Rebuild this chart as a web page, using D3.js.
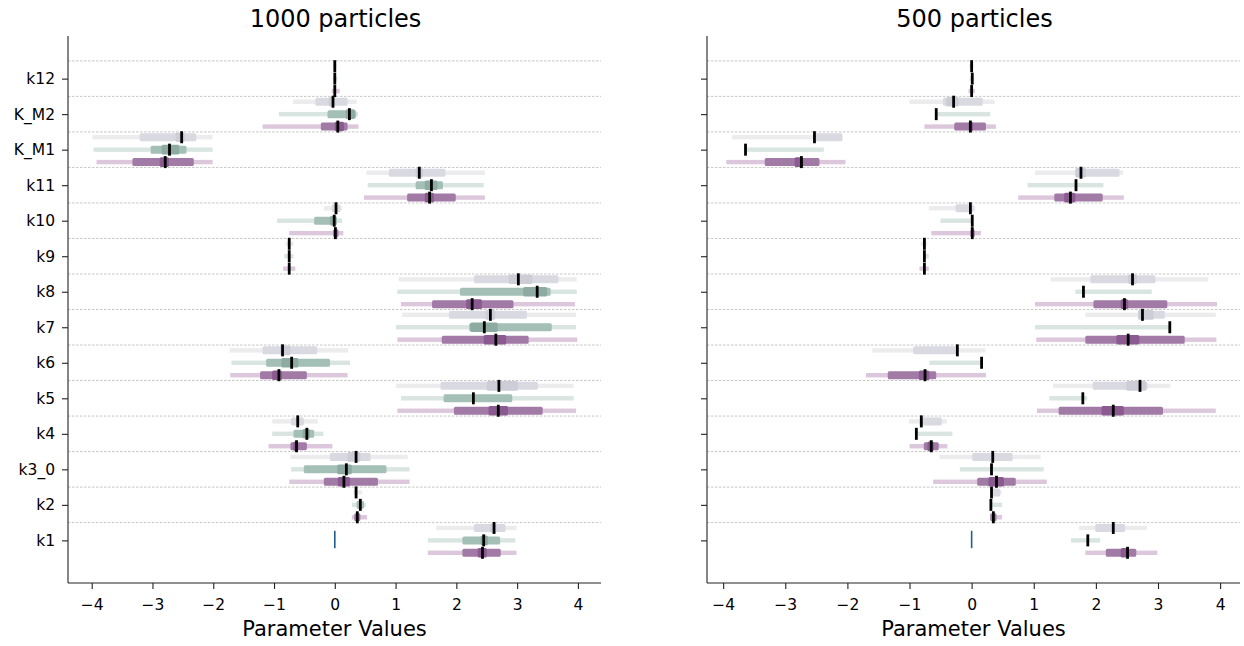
<!DOCTYPE html>
<html>
<head>
<meta charset="utf-8">
<script src="https://cdn.jsdelivr.net/npm/d3@7"></script>
<style>
  body { margin: 0; background: #fff; }
  text { font-family: "DejaVu Sans", sans-serif; }
</style>
</head>
<body>
<svg width="1244" height="646"></svg>
<script>
const params = ["k12", "K_M2", "K_M1", "k11", "k10", "k9", "k8", "k7", "k6", "k5", "k4", "k3_0", "k2", "k1"];
const xTicks = [-4, -3, -2, -1, 0, 1, 2, 3, 4];
const panelTitles = ["1000 particles", "500 particles"];
const trueK1 = 0;

// each row: [outerLo, outerHi, midLo, midHi, innerLo, innerHi, marker]
const gray1000 = [
  [-0.03, 0.03, null, null, null, null, 0.0],
  [-0.69, 0.36, -0.32, 0.21, -0.10, 0.00, -0.03],
  [-3.99, -2.01, -3.21, -2.28, -2.62, -2.47, -2.52],
  [0.52, 2.47, 0.89, 1.82, 1.33, 1.45, 1.39],
  [-0.18, 0.12, -0.05, 0.09, null, null, 0.02],
  [-0.81, -0.68, null, null, null, null, -0.75],
  [1.05, 3.98, 2.29, 3.68, 2.86, 3.25, 3.02],
  [1.11, 3.97, 1.88, 3.16, 2.48, 2.64, 2.56],
  [-1.73, 0.22, -1.19, -0.29, -0.90, -0.73, -0.86],
  [1.01, 3.93, 1.74, 3.34, 2.50, 3.01, 2.70],
  [-1.03, -0.28, -0.72, -0.51, null, null, -0.61],
  [-0.73, 1.20, -0.08, 0.59, 0.21, 0.42, 0.35],
  [0.31, 0.45, null, null, null, null, 0.35],
  [1.67, 2.99, 2.29, 2.81, 2.56, 2.66, 2.62]
];
const green1000 = [
  [-0.03, 0.04, null, null, null, null, 0.0],
  [-0.92, 0.38, -0.12, 0.35, 0.18, 0.33, 0.24],
  [-3.97, -2.01, -3.03, -2.44, -2.85, -2.56, -2.72],
  [0.54, 2.45, 1.33, 1.78, 1.48, 1.69, 1.59],
  [-0.95, 0.12, -0.34, 0.03, -0.08, 0.03, -0.01],
  [-0.83, -0.68, null, null, null, null, -0.75],
  [1.03, 3.98, 2.06, 3.55, 3.10, 3.49, 3.33],
  [1.01, 3.97, 2.21, 3.57, 2.23, 2.68, 2.46],
  [-1.70, 0.25, -1.13, -0.08, -0.88, -0.60, -0.71],
  [1.09, 3.93, 1.79, 2.92, null, null, 2.28],
  [-1.03, -0.19, -0.68, -0.34, -0.53, -0.41, -0.46],
  [-0.72, 1.23, -0.51, 0.85, 0.04, 0.28, 0.19],
  [0.28, 0.51, 0.36, 0.48, null, null, 0.42],
  [1.53, 2.97, 2.10, 2.72, 2.40, 2.52, 2.45]
];
const purple1000 = [
  [-0.05, 0.08, null, null, null, null, 0.0],
  [-1.19, 0.39, -0.23, 0.21, 0.00, 0.15, 0.05],
  [-3.92, -2.01, -3.33, -2.32, -2.88, -2.73, -2.79],
  [0.48, 2.47, 1.19, 1.99, 1.48, 1.63, 1.56],
  [-0.75, 0.14, -0.03, 0.06, null, null, 0.01],
  [-0.85, -0.65, null, null, null, null, -0.75],
  [1.09, 3.95, 1.60, 2.94, 2.16, 2.42, 2.26],
  [1.03, 3.99, 1.76, 3.19, 2.45, 2.82, 2.65],
  [-1.72, 0.21, -1.23, -0.46, -1.03, -0.87, -0.92],
  [1.03, 3.97, 1.96, 3.42, 2.53, 2.85, 2.69],
  [-1.09, -0.04, -0.73, -0.46, -0.68, -0.60, -0.63],
  [-0.75, 1.23, -0.18, 0.71, 0.05, 0.25, 0.15],
  [0.28, 0.53, 0.32, 0.42, null, null, 0.37],
  [1.53, 2.99, 2.10, 2.73, 2.35, 2.50, 2.43]
];
const gray500 = [
  [-0.04, 0.03, null, null, null, null, 0.0],
  [-1.00, 0.37, -0.46, 0.18, -0.41, -0.21, -0.29],
  [-3.86, -2.08, -2.53, -2.08, null, null, -2.53],
  [1.02, 2.44, 1.67, 2.38, 1.67, 1.84, 1.76],
  [-0.69, 0.06, -0.26, 0.03, null, null, -0.02],
  [-0.82, -0.72, null, null, null, null, -0.76],
  [1.27, 3.81, 1.91, 2.96, 2.52, 2.66, 2.59],
  [1.83, 3.93, 2.68, 3.11, 2.68, 2.93, 2.75],
  [-1.60, 0.22, -0.94, -0.23, null, null, -0.23],
  [1.31, 3.20, 1.95, 2.83, 2.49, 2.81, 2.71],
  [-1.01, -0.40, -0.84, -0.48, null, null, -0.81],
  [-0.52, 1.11, 0.01, 0.66, null, null, 0.34],
  [0.32, 0.48, 0.32, 0.46, null, null, 0.32],
  [1.73, 2.82, 1.99, 2.47, null, null, 2.28]
];
const green500 = [
  [-0.03, 0.04, null, null, null, null, 0.01],
  [-0.57, 0.30, null, null, null, null, -0.57],
  [-3.64, -2.38, null, null, null, null, -3.64],
  [0.90, 2.12, null, null, null, null, 1.68],
  [-0.50, 0.00, null, null, null, null, 0.01],
  [-0.78, -0.69, null, null, null, null, -0.76],
  [1.67, 2.90, null, null, null, null, 1.80],
  [1.02, 3.19, null, null, null, null, 3.19],
  [-0.68, 0.16, null, null, null, null, 0.16],
  [1.25, 1.86, null, null, null, null, 1.79],
  [-0.89, -0.31, null, null, null, null, -0.89],
  [-0.19, 1.16, null, null, null, null, 0.32],
  [0.31, 0.49, null, null, null, null, 0.31],
  [1.60, 2.07, null, null, null, null, 1.87]
];
const purple500 = [
  [-0.05, 0.05, null, null, null, null, 0.0],
  [-0.76, 0.39, -0.28, 0.23, -0.05, 0.02, -0.02],
  [-3.95, -2.03, -3.33, -2.45, -2.85, -2.71, -2.74],
  [0.75, 2.45, 1.33, 2.11, 1.49, 1.67, 1.59],
  [-0.65, 0.15, -0.02, 0.05, null, null, 0.01],
  [-0.84, -0.69, null, null, null, null, -0.76],
  [1.02, 3.95, 1.96, 3.15, 2.40, 2.52, 2.46],
  [1.04, 3.94, 1.83, 3.43, 2.33, 2.70, 2.52],
  [-1.70, 0.23, -1.35, -0.57, -0.85, -0.68, -0.75],
  [1.05, 3.93, 1.40, 3.08, 2.09, 2.45, 2.28],
  [-1.00, -0.39, -0.77, -0.53, -0.71, -0.61, -0.65],
  [-0.62, 1.21, 0.09, 0.71, 0.27, 0.52, 0.40],
  [0.30, 0.49, 0.30, 0.40, null, null, 0.35],
  [1.83, 2.99, 2.16, 2.65, 2.40, 2.52, 2.51]
];

const panels = [
  { title: panelTitles[0], series: [gray1000, green1000, purple1000], left: 68, right: 601, domain: [-4.39, 4.38], labels: true },
  { title: panelTitles[1], series: [gray500, green500, purple500], left: 707, right: 1240, domain: [-4.26, 4.32], labels: false }
];

// colours per series: [outer, mid, inner]
const palette = [
  ["#ececef", "#d9d9e1", "#cdcdd8"],
  ["#d9e5e0", "#a4bfb6", "#8daba2"],
  ["#dcc7dc", "#a17ba6", "#8a5a90"]
];
const seriesOffset = [-0.35, 0, 0.35];

const svg = d3.select("svg");
const plotTop = 36, plotBottom = 583;

const y = d3.scaleLinear()
  .domain([-1.2, params.length + 0.2])
  .range([plotTop, plotBottom]);

panels.forEach(p => {
  const x = d3.scaleLinear().domain(p.domain).range([p.left, p.right]);
  const g = svg.append("g");

  // dashed separators between parameters
  g.selectAll("line.sep")
    .data(d3.range(params.length))
    .join("line")
    .attr("class", "sep")
    .attr("x1", p.left).attr("x2", p.right)
    .attr("y1", i => y(i - 0.5)).attr("y2", i => y(i - 0.5))
    .attr("stroke", "#b9b9b9")
    .attr("stroke-width", 0.8)
    .attr("stroke-dasharray", "2.5,1.5");

  p.series.forEach((rows, s) => {
    const sg = g.append("g");
    const cy = i => y(i + seriesOffset[s]);
    const items = rows.map((r, i) => ({ r, i }));

    // thin outer interval
    sg.selectAll("rect.outer")
      .data(items)
      .join("rect")
      .attr("class", "outer")
      .attr("x", d => x(d.r[0]))
      .attr("width", d => Math.max(1, x(d.r[1]) - x(d.r[0])))
      .attr("y", d => cy(d.i) - 2.2)
      .attr("height", 4.4)
      .attr("fill", palette[s][0]);

    // mid interval
    sg.selectAll("rect.mid")
      .data(items.filter(d => d.r[2] !== null))
      .join("rect")
      .attr("class", "mid")
      .attr("x", d => x(d.r[2]))
      .attr("width", d => Math.max(1, x(d.r[3]) - x(d.r[2])))
      .attr("y", d => cy(d.i) - 4)
      .attr("height", 8)
      .attr("rx", 1.5)
      .attr("fill", palette[s][1]);

    // inner interval
    sg.selectAll("rect.inner")
      .data(items.filter(d => d.r[4] !== null))
      .join("rect")
      .attr("class", "inner")
      .attr("x", d => x(d.r[4]))
      .attr("width", d => Math.max(1, x(d.r[5]) - x(d.r[4])))
      .attr("y", d => cy(d.i) - 4.8)
      .attr("height", 9.6)
      .attr("rx", 1.5)
      .attr("fill", palette[s][2]);

    // marker
    sg.selectAll("line.mark")
      .data(items)
      .join("line")
      .attr("class", "mark")
      .attr("x1", d => x(d.r[6])).attr("x2", d => x(d.r[6]))
      .attr("y1", d => cy(d.i) - 6).attr("y2", d => cy(d.i) + 6)
      .attr("stroke", "#000")
      .attr("stroke-width", 2.8);
  });

  // reference value for k1
  const k1 = params.indexOf("k1");
  g.append("line")
    .attr("x1", x(trueK1)).attr("x2", x(trueK1))
    .attr("y1", y(k1 - 0.27)).attr("y2", y(k1 + 0.22))
    .attr("stroke", "#1f5f91")
    .attr("stroke-width", 1.6);

  // axes
  const xAxis = d3.axisBottom(x).tickValues(xTicks).tickSize(6).tickPadding(10)
    .tickFormat(d => d < 0 ? "\u2212" + Math.abs(d) : d);
  const xg = g.append("g").attr("transform", `translate(0,${plotBottom})`).call(xAxis);
  xg.select(".domain").attr("d", `M${p.left},0H${p.right}`);

  const yAxis = d3.axisLeft(y).tickValues(d3.range(params.length)).tickSize(6).tickPadding(7)
    .tickFormat(i => p.labels ? params[i] : "");
  const yg = g.append("g").attr("transform", `translate(${p.left},0)`).call(yAxis);
  yg.select(".domain").attr("d", `M0,${plotTop}V${plotBottom}`);

  [xg, yg].forEach(a => {
    a.select(".domain").attr("stroke", "#222").attr("stroke-width", 1.1);
    a.selectAll(".tick line").attr("stroke", "#222").attr("stroke-width", 1.1);
    a.selectAll(".tick text").attr("fill", "#000").style("font-size", "15.5px")
      .style("font-family", "DejaVu Sans, sans-serif");
  });

  g.append("text")
    .attr("x", (p.left + p.right) / 2 + 1)
    .attr("y", 27)
    .attr("text-anchor", "middle")
    .style("font-size", "24px")
    .text(p.title);

  g.append("text")
    .attr("x", (p.left + p.right) / 2)
    .attr("y", 636)
    .attr("text-anchor", "middle")
    .style("font-size", "21px")
    .text("Parameter Values");
});
</script>
</body>
</html>
